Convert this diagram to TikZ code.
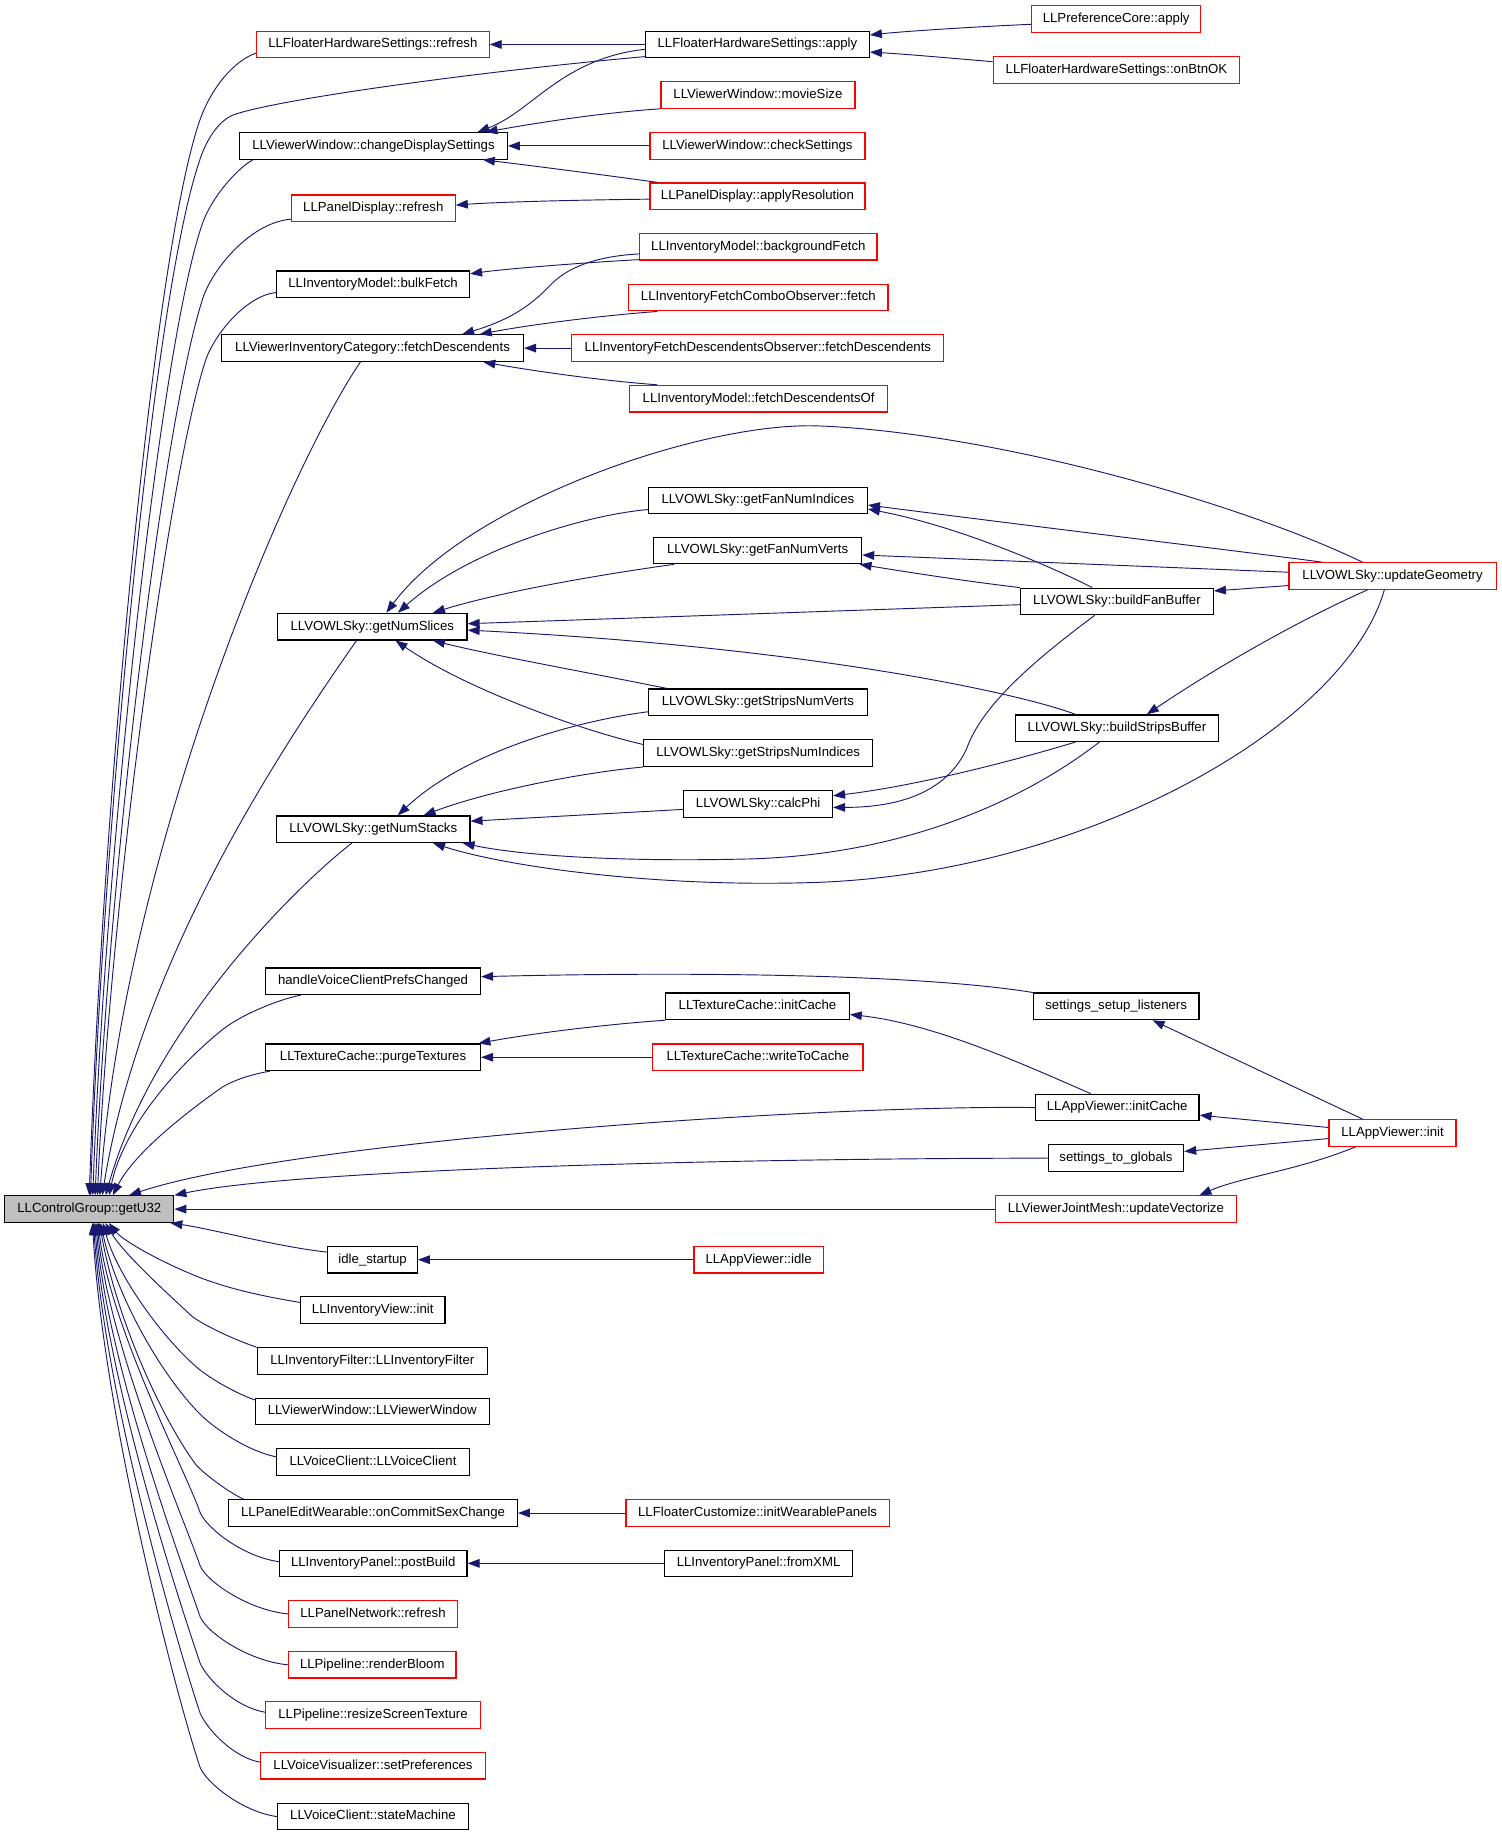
\documentclass[tikz,border=0pt]{standalone}
\usepackage{fontspec}
\setmainfont{Liberation Sans}
\usetikzlibrary{arrows.meta}
\definecolor{navy}{HTML}{191970}
\definecolor{boxgray}{HTML}{BFBFBF}
\newcommand\nd[6]{\node[#1, minimum width={(#4-#3)*0.8775pt}] (#2) at ({(#3+#4)/2},#5) {#6};}
\tikzset{
  basebox/.style={rectangle, line width=0.9pt, inner sep=0pt, minimum height=19.9pt,
    font=\fontsize{9.9pt}{11pt}\selectfont, text height=7.1pt, text depth=2pt},
  bbox/.style={basebox, draw=black, fill=white},
  rbox/.style={basebox, draw=red, fill=white},
  gbox/.style={basebox, draw=black, fill=boxgray},
  edge/.style={draw=navy, line width=0.7pt, -{Triangle[length=9pt,width=6.5pt]}, fill=none}
}
\begin{document}
\begin{tikzpicture}[x=0.8775pt, y=-0.8775pt]
\useasboundingbox (0,0) rectangle (1283,1569);
% nodes
\nd{rbox}{fhsR}{219.2}{418}{38}{LLFloaterHardwareSettings::refresh}
\nd{bbox}{fhsA}{551.7}{742.9}{38}{LLFloaterHardwareSettings::apply}
\nd{rbox}{prefA}{881.5}{1026.2}{16.2}{LLPreferenceCore::apply}
\nd{rbox}{btnOK}{848.8}{1059.4}{59.8}{LLFloaterHardwareSettings::onBtnOK}
\nd{bbox}{cds}{204.9}{433.5}{124.7}{LLViewerWindow::changeDisplaySettings}
\nd{rbox}{movie}{564.8}{730.6}{81.1}{LLViewerWindow::movieSize}
\nd{rbox}{check}{555.4}{739.2}{124.7}{LLViewerWindow::checkSettings}
\nd{rbox}{applyRes}{555.4}{739.2}{167.7}{LLPanelDisplay::applyResolution}
\nd{rbox}{pdR}{249}{389}{178}{LLPanelDisplay::refresh}
\nd{rbox}{bgf}{546.8}{749.4}{210.8}{LLInventoryModel::backgroundFetch}
\nd{bbox}{bulk}{236.4}{401.2}{243}{LLInventoryModel::bulkFetch}
\nd{rbox}{combo}{537.4}{758.8}{254.3}{LLInventoryFetchComboObserver::fetch}
\nd{bbox}{vicfd}{189.3}{447.4}{297.5}{LLViewerInventoryCategory::fetchDescendents}
\nd{rbox}{ifdo}{488.7}{806.6}{297.5}{LLInventoryFetchDescendentsObserver::fetchDescendents}
\nd{rbox}{fdOf}{538.2}{758.4}{340.7}{LLInventoryModel::fetchDescendentsOf}
\nd{bbox}{fni}{554.1}{741.2}{427.6}{LLVOWLSky::getFanNumIndices}
\nd{bbox}{fnv}{558.6}{736.3}{470.4}{LLVOWLSky::getFanNumVerts}
\nd{rbox}{upd}{1101.5}{1278.6}{492.3}{LLVOWLSky::updateGeometry}
\nd{bbox}{bfb}{872.1}{1036.9}{514}{LLVOWLSky::buildFanBuffer}
\nd{bbox}{slices}{237.2}{399.1}{535.5}{LLVOWLSky::getNumSlices}
\nd{bbox}{snv}{554.1}{741.2}{600.2}{LLVOWLSky::getStripsNumVerts}
\nd{bbox}{bsb}{867.6}{1041.4}{622.3}{LLVOWLSky::buildStripsBuffer}
\nd{bbox}{sni}{550.1}{745.7}{643.6}{LLVOWLSky::getStripsNumIndices}
\nd{bbox}{phi}{584.4}{711.4}{687}{LLVOWLSky::calcPhi}
\nd{bbox}{stacks}{236.4}{401.6}{708.6}{LLVOWLSky::getNumStacks}
\nd{bbox}{hvc}{227}{410.6}{838.5}{handleVoiceClientPrefsChanged}
\nd{bbox}{ssl}{883.1}{1024.6}{860}{settings\_setup\_listeners}
\nd{bbox}{tcInit}{568.9}{725.7}{860}{LLTextureCache::initCache}
\nd{bbox}{purge}{227}{410.6}{903.5}{LLTextureCache::purgeTextures}
\nd{rbox}{wtc}{557.8}{737.5}{903.5}{LLTextureCache::writeToCache}
\nd{bbox}{avInitC}{884.8}{1024.6}{946.5}{LLAppViewer::initCache}
\nd{rbox}{avInit}{1135.8}{1244.3}{968.2}{LLAppViewer::init}
\nd{bbox}{s2g}{895.8}{1011.5}{989.7}{settings\_to\_globals}
\nd{gbox}{u32}{4.1}{148.5}{1033.3}{LLControlGroup::getU32}
\nd{rbox}{vect}{850.4}{1056.9}{1033.3}{LLViewerJointMesh::updateVectorize}
\nd{bbox}{idleS}{280.2}{356.6}{1076.5}{idle\_startup}
\nd{rbox}{avIdle}{593}{703.6}{1076.5}{LLAppViewer::idle}
\nd{bbox}{ivInit}{256.8}{380.3}{1119.6}{LLInventoryView::init}
\nd{bbox}{ifilt}{220}{416.3}{1163.2}{LLInventoryFilter::LLInventoryFilter}
\nd{bbox}{vwvw}{218.4}{418}{1206.2}{LLViewerWindow::LLViewerWindow}
\nd{bbox}{vcvc}{236.4}{401.2}{1249.4}{LLVoiceClient::LLVoiceClient}
\nd{bbox}{csc}{195.5}{442.1}{1293}{LLPanelEditWearable::onCommitSexChange}
\nd{rbox}{iwp}{534.9}{760}{1293}{LLFloaterCustomize::initWearablePanels}
\nd{bbox}{postB}{238.8}{399.1}{1336}{LLInventoryPanel::postBuild}
\nd{bbox}{fromX}{568}{728.5}{1336}{LLInventoryPanel::fromXML}
\nd{rbox}{pnR}{246.6}{391}{1379.2}{LLPanelNetwork::refresh}
\nd{rbox}{bloom}{246.6}{389.7}{1422.7}{LLPipeline::renderBloom}
\nd{rbox}{resize}{227}{410.6}{1465.7}{LLPipeline::resizeScreenTexture}
\nd{rbox}{setPref}{222.9}{414.7}{1508.9}{LLVoiceVisualizer::setPreferences}
\nd{bbox}{stateM}{237.2}{400.4}{1552.4}{LLVoiceClient::stateMachine}
% top fan into getU32
\draw[edge] ([yshift=-6.5pt]fhsR.west) .. controls (200,52) and (180,75) .. (170,105) .. controls (130,225) and (87,702) .. (u32.north);
\draw[edge] ([yshift=-9.1pt]fhsA.west) .. controls (420,60) and (240,84) .. (200,98) .. controls (186,103) and (175,122) .. (170,139) .. controls (131,254) and (88,713) .. ([xshift=0.9pt]u32.north);
\draw[edge] ([xshift=10.4pt]cds.south west) .. controls (205,142) and (180,168) .. (172,194) .. controls (136,302) and (90,732) .. ([xshift=2.6pt]u32.north);
\draw[edge] ([yshift=-8.2pt]pdR.west) .. controls (215,190) and (183,228) .. (174,253) .. controls (140,353) and (92,753) .. ([xshift=4.4pt]u32.north);
\draw[edge] ([yshift=-6.1pt]bulk.west) .. controls (210,253) and (184,285) .. (176,307) .. controls (145,400) and (94,772) .. ([xshift=6.1pt]u32.north);
\draw[edge] ([xshift=-9.1pt]vicfd.south) .. controls (240,410) and (105,740) .. ([xshift=7.9pt]u32.north);
\draw[edge] ([xshift=-11.8pt]slices.south) .. controls (240,640) and (120,820) .. ([xshift=9.7pt]u32.north);
\draw[edge] ([xshift=-16.1pt]stacks.south) .. controls (250,760) and (130,880) .. ([xshift=12.3pt]u32.north);
\draw[edge] ([xshift=-54.2pt]hvc.south) .. controls (235,855) and (205,868) .. (190,880) .. controls (150,912) and (105,965) .. ([xshift=14.9pt]u32.north);
\draw[edge] ([xshift=-77.2pt]purge.south) .. controls (215,918) and (200,923) .. (190,929) .. controls (160,950) and (115,985) .. ([xshift=17.6pt]u32.north);
\draw[edge] (avInitC.west) .. controls (700,944) and (250,975) .. ([xshift=29.8pt]u32.north);
\draw[edge] (s2g.west) .. controls (600,990) and (250,1000) .. (u32.north east);
\draw[edge] (vect.west) -- (u32.east);
\draw[edge] ([yshift=5.7pt]idleS.west) .. controls (240,1066) and (180,1050) .. ([xshift=-3pt]u32.south east);
% bottom fan into getU32
\draw[edge] ([yshift=5.8pt]ivInit.west) .. controls (220,1107) and (190,1100) .. (163.6,1088.8) .. controls (135,1077) and (105,1060) .. ([xshift=14.65pt]u32.south);
\draw[edge] (ifilt.north west) .. controls (195,1143) and (170,1130) .. (163.6,1124.4) .. controls (135,1098) and (105,1070) .. ([xshift=12pt]u32.south);
\draw[edge] ([yshift=8.6pt]vwvw.west) .. controls (200,1190) and (180,1178) .. (170,1170) .. controls (140,1145) and (100,1090) .. ([xshift=10.3pt]u32.south);
\draw[edge] ([yshift=3.9pt]vcvc.west) .. controls (212,1240) and (185,1222) .. (171.8,1209.3) .. controls (140,1178) and (100,1110) .. ([xshift=8.5pt]u32.south);
\draw[edge] ([xshift=11.5pt]csc.north west) .. controls (195,1275) and (175,1260) .. (167.7,1252) .. controls (140,1215) and (100,1130) .. ([xshift=7.6pt]u32.south);
\draw[edge] ([yshift=1.3pt]postB.west) .. controls (208.3,1330.5) and (177,1306.5) .. (171,1292.5) .. controls (160,1260) and (93,1131.4) .. ([xshift=6.8pt]u32.south);
\draw[edge] (pnR.west) .. controls (212.6,1376) and (177,1352) .. (171,1338) .. controls (158,1300) and (92,1147.4) .. ([xshift=5.9pt]u32.south);
\draw[edge] (bloom.west) .. controls (212.6,1419.6) and (177,1395.6) .. (171,1381.6) .. controls (156,1337.8) and (91,1162.6) .. ([xshift=5pt]u32.south);
\draw[edge] ([yshift=2.2pt]resize.west) .. controls (201.8,1459.2) and (177,1435.2) .. (171,1421.2) .. controls (154.4,1372.3) and (90,1176.5) .. ([xshift=4.1pt]u32.south);
\draw[edge] ([yshift=2.6pt]setPref.west) .. controls (199.5,1501.9) and (177,1477.9) .. (171,1463.9) .. controls (152.6,1409.4) and (89,1191.4) .. ([xshift=3.2pt]u32.south);
\draw[edge] (stateM.west) .. controls (207.4,1548.3) and (177,1524.3) .. (171,1510.3) .. controls (150.5,1449.8) and (88,1207.7) .. ([xshift=2.4pt]u32.south);
% upper right
\draw[edge] (fhsA.west) -- (fhsR.east);
\draw[edge] ([yshift=-4pt]prefA.west) .. controls (830,23) and (770,27) .. ([yshift=7.1pt]fhsA.east);
\draw[edge] ([yshift=6.2pt]btnOK.west) .. controls (805,49) and (770,46) .. ([yshift=-5.7pt]fhsA.east);
\draw[edge] ([yshift=-3.6pt]fhsA.west) .. controls (480,50) and (455,95) .. ([xshift=78pt]cds.north);
\draw[edge] (movie.south west) .. controls (520,96) and (470,103) .. ([xshift=84pt]cds.north);
\draw[edge] (check.west) -- (cds.east);
\draw[edge] ([xshift=6.1pt]applyRes.north west) .. controls (520,150) and (450,141) .. ([xshift=82pt]cds.south);
\draw[edge] ([yshift=-2.2pt]applyRes.west) .. controls (480,171) and (420,173) .. ([yshift=2.4pt]pdR.east);
\draw[edge] ([yshift=0.7pt]bgf.south west) .. controls (490,225) and (430,230) .. ([yshift=7.9pt]bulk.east);
\draw[edge] ([yshift=-5.4pt]bgf.west) .. controls (510,219) and (485,228) .. (470,244) .. controls (450,265) and (430,275) .. ([xshift=67.2pt]vicfd.north);
\draw[edge] ([xshift=21.9pt]combo.south west) .. controls (510,270) and (450,278) .. ([xshift=80.4pt]vicfd.north);
\draw[edge] (ifdo.west) -- (vicfd.east);
\draw[edge] ([xshift=21.2pt]fdOf.north west) .. controls (510,325) and (450,316) .. ([xshift=83.1pt]vicfd.south);
% VOWLSky cluster
\draw[edge] ([xshift=-22.5pt]upd.north) .. controls (1060,430) and (850,370) .. (700,364) .. controls (600,360) and (400,430) .. ([xshift=10.5pt]slices.north);
\draw[edge] ([xshift=-52.9pt]upd.north) .. controls (1100,476) and (900,452) .. ([yshift=-3.5pt]fni.east);
\draw[edge] ([xshift=-18.5pt]bfb.north) .. controls (900,485) and (820,450) .. ([yshift=-6.5pt]fni.east);
\draw[edge] ([yshift=2.9pt]upd.west) -- ([yshift=-3.4pt]fnv.east);
\draw[edge] (bfb.north west) .. controls (820,496) and (770,488) .. ([xshift=-2pt]fnv.south east);
\draw[edge] ([yshift=-7.1pt]upd.west) -- ([yshift=7.9pt]bfb.east);
\draw[edge] ([yshift=-2.4pt]bfb.west) -- ([yshift=2.2pt]slices.east);
\draw[edge] ([xshift=-31.1pt]bsb.north) .. controls (870,592) and (690,553) .. ([yshift=-2.6pt]slices.east);
\draw[edge] ([xshift=14.4pt]snv.north west) .. controls (520,578) and (420,560) .. ([xshift=45.5pt]slices.south);
\draw[edge] ([yshift=6.5pt]sni.west) .. controls (500,625) and (400,590) .. ([xshift=17.4pt]slices.south);
\draw[edge] ([yshift=-6.9pt]fni.west) .. controls (500,440) and (400,470) .. ([xshift=19.2pt]slices.north);
\draw[edge] ([xshift=15.8pt]fnv.south west) .. controls (520,490) and (430,505) .. ([xshift=45.5pt]slices.north);
\draw[edge] ([yshift=-7.1pt]snv.west) .. controls (500,615) and (400,640) .. ([xshift=18.4pt]stacks.north);
\draw[edge] (sni.south west) .. controls (500,660) and (420,675) .. ([xshift=37.7pt]stacks.north);
\draw[edge] ([yshift=-4.1pt]phi.west) -- ([yshift=6pt]stacks.east);
\draw[edge] ([xshift=-13.1pt]bsb.south) .. controls (880,680) and (780,730) .. (641,734) .. controls (520,737) and (440,730) .. ([xshift=-6pt]stacks.south east);
\draw[edge] ([xshift=-6.2pt]upd.south) .. controls (1150,620) and (930,745) .. (700,754) .. controls (560,759) and (430,740) .. ([xshift=44.8pt]stacks.south);
\draw[edge] ([xshift=-16.7pt]bfb.south) .. controls (890,560) and (840,600) .. (826,640) .. controls (812,670) and (780,690) .. ([yshift=-2.6pt]phi.east);
\draw[edge] ([xshift=-31.1pt]bsb.south) .. controls (860,652) and (780,672) .. ([yshift=6.1pt]phi.east);
\draw[edge] ([xshift=-18.9pt]upd.south) .. controls (1110,530) and (1040,570) .. ([xshift=22.4pt]bsb.north);
% lower right
\draw[edge] (ssl.north west) .. controls (790,833) and (600,830) .. ([yshift=3.4pt]hvc.east);
\draw[edge] (tcInit.south west) .. controls (510,876) and (450,884) .. ([xshift=-2pt]purge.north east);
\draw[edge] (wtc.west) -- (purge.east);
\draw[edge] ([xshift=-19.7pt]avInitC.north) .. controls (880,912) and (800,875) .. ([yshift=-6.1pt]tcInit.east);
\draw[edge] ([xshift=-22.5pt]avInit.north) -- ([xshift=27.3pt]ssl.south);
\draw[edge] ([yshift=4.1pt]avInit.west) -- ([yshift=-5.7pt]avInitC.east);
\draw[edge] ([yshift=-4.2pt]avInit.west) -- ([yshift=5pt]s2g.east);
\draw[edge] ([xshift=-27.7pt]avInit.south) .. controls (1110,1000) and (1060,1006) .. ([xshift=62.6pt]vect.north);
\draw[edge] (avIdle.west) -- (idleS.east);
\draw[edge] (iwp.west) -- (csc.east);
\draw[edge] (fromX.west) -- (postB.east);
\end{tikzpicture}
\end{document}
